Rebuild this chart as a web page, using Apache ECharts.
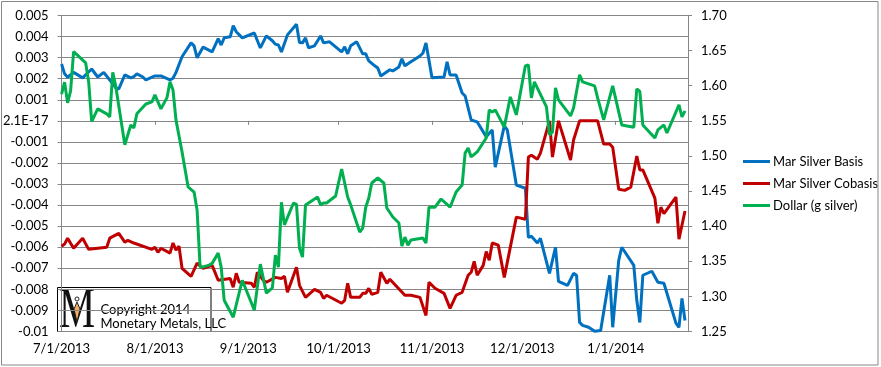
<!DOCTYPE html>
<html><head><meta charset="utf-8">
<script src="https://cdn.jsdelivr.net/npm/echarts@6/dist/echarts.min.js"></script>
<style>html,body{margin:0;padding:0;background:#fff}#c{width:881px;height:367px}</style>
</head><body><div id="c"></div><script>
const seriesNames = ['Mar Silver Basis', 'Mar Silver Cobasis', 'Dollar (g silver)'];
const xTickLabels = ['7/1/2013', '8/1/2013', '9/1/2013', '10/1/2013', '11/1/2013', '12/1/2013', '1/1/2014'];
const leftTickLabels = ['0.005','0.004','0.003','0.002','0.001','2.1E-17','-0.001','-0.002','-0.003','-0.004','-0.005','-0.006','-0.007','-0.008','-0.009','-0.01'];
const rightTickLabels = ['1.70','1.65','1.60','1.55','1.50','1.45','1.40','1.35','1.30','1.25'];

const basisDates = ['2013-07-01','2013-07-02','2013-07-03','2013-07-05','2013-07-08','2013-07-11','2013-07-13','2013-07-15','2013-07-17','2013-07-19','2013-07-20','2013-07-22','2013-07-24','2013-07-25','2013-07-26','2013-07-28','2013-07-29','2013-08-01','2013-08-03','2013-08-06','2013-08-07','2013-08-08','2013-08-10','2013-08-13','2013-08-14','2013-08-15','2013-08-17','2013-08-20','2013-08-22','2013-08-23','2013-08-24','2013-08-26','2013-08-27','2013-08-28','2013-08-30','2013-09-03','2013-09-05','2013-09-07','2013-09-09','2013-09-10','2013-09-11','2013-09-12','2013-09-14','2013-09-17','2013-09-18','2013-09-19','2013-09-20','2013-09-21','2013-09-23','2013-09-25','2013-09-26','2013-09-28','2013-09-30','2013-10-02','2013-10-03','2013-10-04','2013-10-05','2013-10-07','2013-10-09','2013-10-10','2013-10-11','2013-10-13','2013-10-14','2013-10-15','2013-10-18','2013-10-19','2013-10-21','2013-10-22','2013-10-23','2013-10-25','2013-10-28','2013-10-29','2013-10-30','2013-11-01','2013-11-05','2013-11-06','2013-11-07','2013-11-09','2013-11-11','2013-11-12','2013-11-14','2013-11-16','2013-11-19','2013-11-21','2013-11-22','2013-11-25','2013-11-26','2013-11-29','2013-12-02','2013-12-03','2013-12-04','2013-12-06','2013-12-07','2013-12-10','2013-12-12','2013-12-13','2013-12-16','2013-12-18','2013-12-19','2013-12-20','2013-12-21','2013-12-23','2013-12-25','2013-12-27','2013-12-30','2013-12-31','2014-01-02','2014-01-03','2014-01-07','2014-01-08','2014-01-09','2014-01-10','2014-01-13','2014-01-15','2014-01-17','2014-01-21','2014-01-22','2014-01-23','2014-01-24'];
const basisValues = [0.0027,0.00223,0.00207,0.0023,0.00204,0.00246,0.00208,0.0023,0.00194,0.00156,0.00151,0.00218,0.00204,0.0021,0.00223,0.00208,0.00194,0.00213,0.00213,0.00194,0.00202,0.0023,0.00304,0.0037,0.00356,0.00299,0.0035,0.00327,0.0039,0.0036,0.00394,0.00399,0.00452,0.00423,0.00394,0.00417,0.00346,0.00403,0.0038,0.00364,0.0036,0.00327,0.00408,0.00458,0.00372,0.0037,0.00394,0.00347,0.00356,0.00403,0.0037,0.00375,0.00351,0.00327,0.00351,0.00318,0.00356,0.00375,0.00318,0.00318,0.00285,0.00261,0.00251,0.00213,0.00242,0.00237,0.00256,0.00294,0.00261,0.0028,0.00308,0.00322,0.0037,0.00204,0.00208,0.0028,0.00218,0.00218,0.00132,0.00118,0.00004,-0.00005,-0.00076,-0.00043,-0.0022,-0.00024,-0.00043,-0.00305,-0.0032,-0.00553,-0.00548,-0.0058,-0.00558,-0.00724,-0.006,-0.00762,-0.00781,-0.00724,-0.00733,-0.00957,-0.00971,-0.0098,-0.00999,-0.00995,-0.00733,-0.0098,-0.00662,-0.006,-0.00686,-0.00852,-0.00957,-0.00733,-0.00714,-0.00766,-0.00771,-0.0096,-0.0098,-0.00843,-0.00948];

const cobasisDates = ['2013-07-01','2013-07-02','2013-07-03','2013-07-05','2013-07-08','2013-07-10','2013-07-16','2013-07-17','2013-07-20','2013-07-22','2013-07-23','2013-07-25','2013-07-31','2013-08-01','2013-08-02','2013-08-03','2013-08-06','2013-08-07','2013-08-08','2013-08-09','2013-08-10','2013-08-13','2013-08-15','2013-08-17','2013-08-20','2013-08-22','2013-08-26','2013-08-27','2013-08-28','2013-08-29','2013-09-02','2013-09-03','2013-09-04','2013-09-06','2013-09-07','2013-09-10','2013-09-12','2013-09-13','2013-09-14','2013-09-17','2013-09-18','2013-09-20','2013-09-23','2013-09-25','2013-09-26','2013-09-27','2013-10-02','2013-10-03','2013-10-04','2013-10-05','2013-10-08','2013-10-09','2013-10-10','2013-10-11','2013-10-12','2013-10-14','2013-10-15','2013-10-17','2013-10-18','2013-10-23','2013-10-25','2013-10-28','2013-10-30','2013-10-31','2013-11-02','2013-11-05','2013-11-07','2013-11-09','2013-11-11','2013-11-13','2013-11-14','2013-11-15','2013-11-16','2013-11-18','2013-11-19','2013-11-20','2013-11-21','2013-11-23','2013-11-25','2013-11-29','2013-12-02','2013-12-03','2013-12-04','2013-12-06','2013-12-07','2013-12-10','2013-12-11','2013-12-13','2013-12-17','2013-12-18','2013-12-20','2013-12-26','2013-12-28','2013-12-30','2013-12-31','2014-01-02','2014-01-04','2014-01-06','2014-01-08','2014-01-09','2014-01-10','2014-01-14','2014-01-15','2014-01-16','2014-01-17','2014-01-21','2014-01-22','2014-01-24'];
const cobasisValues = [-0.00595,-0.00585,-0.00557,-0.00605,-0.00557,-0.0061,-0.006,-0.00557,-0.00534,-0.00576,-0.00567,-0.0058,-0.0061,-0.006,-0.00624,-0.00605,-0.00628,-0.0058,-0.00614,-0.00595,-0.007,-0.00738,-0.00676,-0.007,-0.00686,-0.00757,-0.00748,-0.0079,-0.00724,-0.00766,-0.00771,-0.0079,-0.00719,-0.00757,-0.00766,-0.00743,-0.00748,-0.00738,-0.00814,-0.00695,-0.00781,-0.00838,-0.008,-0.00814,-0.00843,-0.00828,-0.00866,-0.00852,-0.00771,-0.00838,-0.00838,-0.00819,-0.00819,-0.00795,-0.00824,-0.00814,-0.00719,-0.00771,-0.00752,-0.00828,-0.00828,-0.00838,-0.00924,-0.00766,-0.00795,-0.00819,-0.0089,-0.00828,-0.00814,-0.00733,-0.00719,-0.00667,-0.00733,-0.00686,-0.0062,-0.00662,-0.0058,-0.0059,-0.00743,-0.00457,-0.00467,-0.00172,-0.00163,-0.00182,-0.00153,0,-0.00172,0,-0.00186,-0.00091,0,0,-0.0011,-0.0011,-0.00125,-0.00325,-0.0033,-0.00315,-0.00167,-0.00233,-0.00233,-0.00367,-0.00486,-0.0041,-0.0044,-0.00362,-0.00562,-0.00428];

const dollarDates = ['2013-07-01','2013-07-02','2013-07-03','2013-07-04','2013-07-05','2013-07-09','2013-07-10','2013-07-11','2013-07-13','2013-07-16','2013-07-17','2013-07-18','2013-07-19','2013-07-22','2013-07-24','2013-07-25','2013-07-26','2013-07-29','2013-07-31','2013-08-01','2013-08-03','2013-08-05','2013-08-06','2013-08-07','2013-08-08','2013-08-10','2013-08-12','2013-08-14','2013-08-15','2013-08-16','2013-08-17','2013-08-19','2013-08-20','2013-08-22','2013-08-23','2013-08-24','2013-08-27','2013-08-30','2013-09-03','2013-09-05','2013-09-07','2013-09-09','2013-09-10','2013-09-11','2013-09-12','2013-09-13','2013-09-16','2013-09-17','2013-09-18','2013-09-19','2013-09-20','2013-09-24','2013-09-25','2013-09-26','2013-09-27','2013-09-30','2013-10-02','2013-10-04','2013-10-05','2013-10-08','2013-10-09','2013-10-10','2013-10-11','2013-10-12','2013-10-14','2013-10-16','2013-10-17','2013-10-19','2013-10-21','2013-10-22','2013-10-23','2013-10-24','2013-10-25','2013-10-29','2013-10-30','2013-10-31','2013-11-02','2013-11-04','2013-11-07','2013-11-09','2013-11-11','2013-11-12','2013-11-13','2013-11-14','2013-11-16','2013-11-19','2013-11-20','2013-11-21','2013-11-22','2013-11-25','2013-11-27','2013-11-29','2013-12-02','2013-12-03','2013-12-04','2013-12-05','2013-12-09','2013-12-10','2013-12-11','2013-12-12','2013-12-13','2013-12-17','2013-12-18','2013-12-20','2013-12-21','2013-12-25','2013-12-26','2013-12-28','2013-12-31','2014-01-03','2014-01-07','2014-01-08','2014-01-09','2014-01-10','2014-01-14','2014-01-15','2014-01-17','2014-01-18','2014-01-22','2014-01-23','2014-01-24'];
const dollarValues = [1.588,1.605,1.5756,1.5927,1.6485,1.6326,1.6055,1.549,1.567,1.56,1.5556,1.619,1.599,1.516,1.544,1.54,1.56,1.574,1.577,1.587,1.567,1.583,1.6055,1.594,1.551,1.506,1.456,1.4486,1.423,1.342,1.342,1.3445,1.347,1.3616,1.3416,1.2946,1.2704,1.323,1.2804,1.3459,1.3046,1.312,1.3587,1.3416,1.434,1.4018,1.433,1.431,1.3687,1.356,1.4303,1.4416,1.4303,1.433,1.433,1.443,1.4814,1.4416,1.4303,1.3916,1.3973,1.427,1.44,1.4615,1.4686,1.4615,1.4259,1.413,1.4045,1.3716,1.3844,1.373,1.3802,1.383,1.376,1.427,1.427,1.4387,1.427,1.4486,1.4586,1.5042,1.5114,1.4986,1.5057,1.5256,1.5656,1.5627,1.5656,1.541,1.5841,1.5585,1.6283,1.6297,1.5827,1.6055,1.57,1.53,1.534,1.597,1.5798,1.557,1.5684,1.6155,1.6055,1.5998,1.5827,1.5514,1.5998,1.5442,1.541,1.5955,1.592,1.5442,1.5256,1.537,1.5442,1.5327,1.5727,1.5556,1.5642];

const xStart = '2013-07-01', xEnd = '2014-01-25';

function isoTs(s) { const p = s.split('-').map(Number); return Date.UTC(p[0], p[1] - 1, p[2]); }
function mdyTs(s) { const p = s.split('/').map(Number); return Date.UTC(p[2], p[0] - 1, p[1]); }
function pairs(d, v) { return d.map((s, i) => [isoTs(s), v[i]]); }
const xTickTs = xTickLabels.map(mdyTs);

const FONT = 'Lato, "Open Sans", sans-serif';
const GRAY = '#868686';
const chart = echarts.init(document.getElementById('c'), null, { renderer: 'canvas' });
chart.setOption({
  animation: false,
  backgroundColor: '#fff',
  grid: { left: 57, right: 193, top: 15.5, bottom: 35.5, containLabel: false },
  xAxis: {
    type: 'value', min: isoTs(xStart), max: isoTs(xEnd), scale: true,
    axisLine: { show: true, lineStyle: { color: GRAY, width: 1 } },
    axisTick: { show: true, length: 4, lineStyle: { color: GRAY }, customValues: xTickTs },
    splitLine: { show: false },
    axisLabel: {
      customValues: xTickTs, margin: 11, color: '#000', fontSize: 13, fontFamily: FONT,
      formatter: function (v) {
        let best = 0, bd = Infinity;
        xTickTs.forEach((t, i) => { const d = Math.abs(t - v); if (d < bd) { bd = d; best = i; } });
        return xTickLabels[best];
      }
    }
  },
  yAxis: [{
    type: 'value', position: 'left', min: -0.01, max: 0.005, interval: 0.001,
    axisLine: { show: true, lineStyle: { color: GRAY, width: 1 } },
    axisTick: { show: true, length: 4, lineStyle: { color: GRAY } },
    splitLine: { show: true, lineStyle: { color: GRAY, width: 1 } },
    axisLabel: {
      margin: 13, color: '#000', fontSize: 13, fontFamily: FONT,
      formatter: function (v) { return leftTickLabels[Math.round((0.005 - v) / 0.001)]; }
    }
  }, {
    type: 'value', position: 'right', min: 1.25, max: 1.70, interval: 0.05,
    axisLine: { show: true, lineStyle: { color: GRAY, width: 1 } },
    axisTick: { show: true, length: 4, lineStyle: { color: GRAY } },
    splitLine: { show: false },
    axisLabel: {
      margin: 13, color: '#000', fontSize: 13, fontFamily: FONT,
      formatter: function (v) { return rightTickLabels[Math.round((1.70 - v) / 0.05)]; }
    }
  }],
  legend: {
    orient: 'vertical', left: 738, top: 150, itemWidth: 27, itemHeight: 3, itemGap: 9,
    icon: 'rect', textStyle: { color: '#000', fontSize: 13, fontFamily: FONT, padding: [0, 0, 0, -2] },
    data: seriesNames
  },
  series: [
    { name: seriesNames[0], type: 'line', yAxisIndex: 0, data: pairs(basisDates, basisValues), showSymbol: false, symbol: 'none', color: '#0070C0', lineStyle: { width: 3, color: '#0070C0' } },
    { name: seriesNames[1], type: 'line', yAxisIndex: 0, data: pairs(cobasisDates, cobasisValues), showSymbol: false, symbol: 'none', color: '#C00000', lineStyle: { width: 3, color: '#C00000' } },
    { name: seriesNames[2], type: 'line', yAxisIndex: 1, data: pairs(dollarDates, dollarValues), showSymbol: false, symbol: 'none', color: '#00B050', lineStyle: { width: 3, color: '#00B050' } }
  ],
  graphic: [
    { type: 'rect', silent: true, z: 100, shape: { x: 1.5, y: 1.5, width: 876.5, height: 363.5 }, style: { fill: 'none', stroke: '#888', lineWidth: 1 } },
    { type: 'group', z: 100, children: [
      { type: 'rect', shape: { x: 57.5, y: 287.5, width: 153.5, height: 44 }, style: { fill: '#fff', stroke: '#000', lineWidth: 1 } },
      { type: 'text', x: 59, y: 283, scaleX: 0.7, style: { text: 'M', font: '58px "Liberation Serif", "DejaVu Serif", serif', fill: '#111' } },
      { type: 'polygon', shape: { points: [[77, 302], [80, 309], [77, 322], [74, 309]] }, style: { fill: '#F4B060', stroke: '#222', lineWidth: 1 } },
      { type: 'circle', shape: { cx: 77, cy: 299, r: 2 }, style: { fill: '#fff', stroke: '#222', lineWidth: 1 } },
      { type: 'text', x: 100.5, y: 303, style: { text: 'Copyright 2014', font: '13px ' + FONT, fill: '#000' } },
      { type: 'text', x: 100.5, y: 317, style: { text: 'Monetary Metals, LLC', font: '13px ' + FONT, fill: '#000' } }
    ]}
  ]
});
</script></body></html>
